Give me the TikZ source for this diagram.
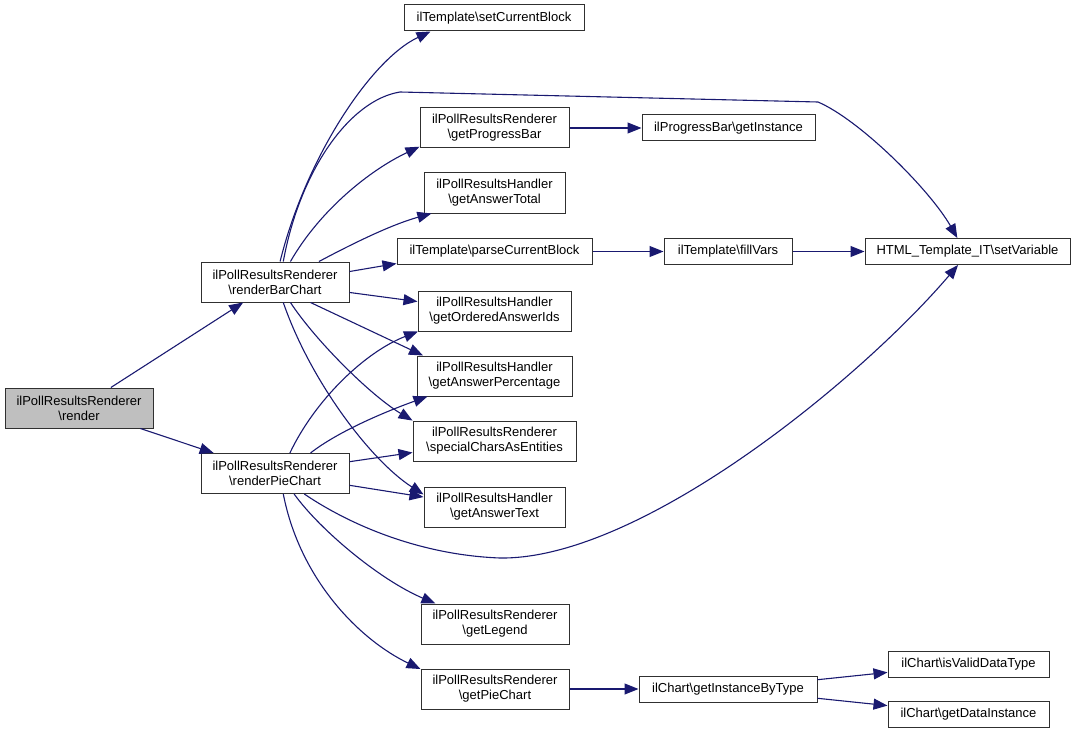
\documentclass[tikz,border=0pt]{standalone}
\usepackage{fontspec}
\setmainfont{Liberation Sans}
\usetikzlibrary{arrows.meta}
\newcommand{\bsl}{\textbackslash}
\definecolor{edgec}{HTML}{191970}
\definecolor{boxc}{HTML}{303030}
\definecolor{hilite}{HTML}{BFBFBF}
\begin{document}
\begin{tikzpicture}[x=1pt,y=-1pt,
  font=\fontsize{13}{15}\selectfont,
  box/.style n args={2}{draw=boxc, line width=1pt, fill=white, align=center, inner sep=0pt, minimum width=#1, minimum height=#2},
  conn/.style={draw=edgec, line width=1.1pt, -{Triangle[length=14pt,width=11pt]}}]
\useasboundingbox (0,0) rectangle (1077,733);
% nodes
\node[box={148pt}{40pt}, fill=hilite] (render) at (79,408) {ilPollResultsRenderer\\\bsl render};
\node[box={148pt}{40pt}] (bar) at (275,282) {ilPollResultsRenderer\\\bsl renderBarChart};
\node[box={148pt}{40pt}] (pie) at (275,473.5) {ilPollResultsRenderer\\\bsl renderPieChart};
\node[box={180pt}{26pt}] (setcb) at (494,18) {ilTemplate\bsl setCurrentBlock};
\node[box={149pt}{40pt}] (gpb) at (494.5,128) {ilPollResultsRenderer\\\bsl getProgressBar};
\node[box={173pt}{26pt}] (gi) at (728.5,128) {ilProgressBar\bsl getInstance};
\node[box={141pt}{40pt}] (gat) at (494.5,193) {ilPollResultsHandler\\\bsl getAnswerTotal};
\node[box={195pt}{26pt}] (pcb) at (494.5,251.5) {ilTemplate\bsl parseCurrentBlock};
\node[box={128pt}{26pt}] (fv) at (728,251.5) {ilTemplate\bsl fillVars};
\node[box={205pt}{26pt}] (setvar) at (967.5,251.5) {HTML\_Template\_IT\bsl setVariable};
\node[box={153pt}{40pt}] (goai) at (494.5,311) {ilPollResultsHandler\\\bsl getOrderedAnswerIds};
\node[box={155pt}{40pt}] (gap) at (494.5,376) {ilPollResultsHandler\\\bsl getAnswerPercentage};
\node[box={163pt}{40pt}] (sce) at (494.5,441) {ilPollResultsRenderer\\\bsl specialCharsAsEntities};
\node[box={141pt}{40pt}] (gatx) at (494.5,507) {ilPollResultsHandler\\\bsl getAnswerText};
\node[box={148pt}{40pt}] (gl) at (495,624) {ilPollResultsRenderer\\\bsl getLegend};
\node[box={148pt}{40pt}] (gpc) at (495,689) {ilPollResultsRenderer\\\bsl getPieChart};
\node[box={178pt}{26pt}] (gibt) at (728,689) {ilChart\bsl getInstanceByType};
\node[box={161pt}{26pt}] (ivdt) at (968.5,664) {ilChart\bsl isValidDataType};
\node[box={161pt}{26pt}] (gdi) at (968.5,714) {ilChart\bsl getDataInstance};
% connectors
\draw[conn] (render) -- (bar);
\draw[conn] (render) -- (pie);
\draw[conn] (bar.76) .. controls (305,160) and (370,60) .. (setcb.192);
\draw[conn] (bar.68) .. controls (300,170) and (350,100) .. (400,92) -- (818,102) .. controls (860,120) and (930,190) .. (setvar.127);
\draw[conn] (bar.53) .. controls (320,210) and (370,170) .. (gpb.194);
\draw[conn] (bar.25) .. controls (350,245) and (390,225) .. (gat.198);
\draw[conn] (bar.8) -- (pcb.187);
\draw[conn] (bar.-8) -- (goai.173);
\draw[conn] (bar.-30) -- (gap.164);
\draw[conn] (bar.-53) .. controls (315,340) and (370,395) .. (sce.166);
\draw[conn] (bar.-68) .. controls (310,380) and (370,460) .. (gatx.170);
\draw[conn] (pie.54) .. controls (315,400) and (365,352) .. (goai.195);
\draw[conn] (pie.30) .. controls (340,430) and (390,410) .. (gap.197);
\draw[conn] (pie.9) -- (sce.188);
\draw[conn] (pie.-9) -- (gatx.172);
\draw[conn] (pie.-35) .. controls (350,525) and (420,555) .. (500,558) .. controls (640,560) and (860,380) .. (setvar.235);
\draw[conn] (pie.-47) .. controls (320,530) and (380,580) .. (gl.161);
\draw[conn] (pie.-68) .. controls (300,580) and (360,640) .. (gpc.165);
\draw[conn] (gpb) -- (gi);
\draw[conn] (pcb) -- (fv);
\draw[conn] (fv) -- (setvar);
\draw[conn] (gpc) -- (gibt);
\draw[conn] (gibt) -- (ivdt);
\draw[conn] (gibt) -- (gdi);
\end{tikzpicture}
\end{document}
